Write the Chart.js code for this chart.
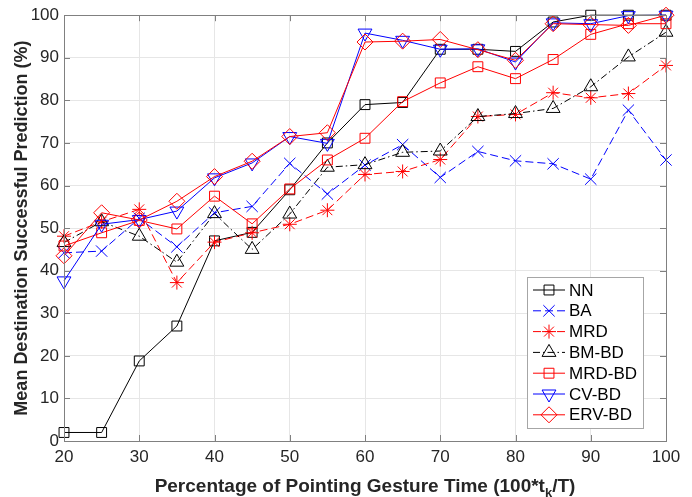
<!DOCTYPE html>
<html>
<head>
<meta charset="utf-8">
<script src="https://cdn.jsdelivr.net/npm/chart.js@4.4.0/dist/chart.umd.min.js"></script>
<style>
  html, body { margin: 0; padding: 0; background: #fff; }
</style>
</head>
<body>
<canvas id="chart" width="692" height="497"></canvas>
<script>
const xValues = [20, 25, 30, 35, 40, 45, 50, 55, 60, 65, 70, 75, 80, 85, 90, 95, 100];

const nn    = [2, 2, 18.8, 27, 47, 49, 59, 70, 79, 79.5, 92, 92, 91.5, 98.4, 100, 100, 100];
const ba    = [44.2, 44.6, 52.3, 45.6, 53.6, 55.1, 65.2, 58, 64.8, 69.6, 61.9, 68, 65.8, 65.1, 61.5, 77.7, 66];
const mrd   = [48.1, 51.5, 54.4, 37.2, 46.7, 48.9, 50.9, 54.2, 62.6, 63.3, 66.1, 76.2, 76.7, 81.8, 80.6, 81.6, 88.2];
const bmbd  = [46.6, 51.5, 48.1, 42, 53.4, 45, 53.3, 64.3, 64.9, 67.8, 68.1, 76.2, 76.9, 78.1, 83.2, 90.2, 96];
const mrdbd = [45.8, 48.9, 51.8, 49.8, 57.5, 51, 59.2, 66, 71.1, 79.7, 84.1, 87.9, 85.1, 89.6, 95.5, 98, 98];
const cvbd  = [37.6, 50.9, 52, 54, 61.8, 65.3, 71.5, 69.9, 95.8, 94.1, 92, 92.1, 89, 98.2, 98, 99.9, 100];
const ervbd = [43.5, 53.6, 51.9, 56.3, 62.1, 65.7, 71.5, 72.4, 93.7, 93.9, 94.3, 91.9, 89.4, 98, 97.8, 97.6, 100];

const xTicks = [20, 30, 40, 50, 60, 70, 80, 90, 100];
const yTitle = 'Mean Destination Successful Prediction (%)';
const xTitleParts = ['Percentage of Pointing Gesture Time (100*t', 'k', '/T)'];

const FONT = "'Liberation Sans', Arial, sans-serif";

function series(label, data, color, style, radius, dash, order, rotation) {
  return {
    label: label,
    data: data.map((v, i) => ({ x: xValues[i], y: v })),
    borderColor: color,
    borderWidth: 1,
    borderDash: dash,
    pointStyle: style,
    pointRadius: radius,
    pointRotation: rotation || 0,
    pointBorderColor: color,
    pointBackgroundColor: 'rgba(0,0,0,0)',
    pointBorderWidth: 1,
    pointHoverRadius: radius,
    tension: 0,
    fill: false,
    clip: false,
    order: order
  };
}

const datasets = [
  series('NN', nn, '#000000', 'rect', 7, [], 6),
  series('BA', ba, '#0000ff', 'crossRot', 8, [8, 4], 5),
  series('MRD', mrd, '#ff0000', 'star', 7, [8, 4], 4),
  series('BM-BD', bmbd, '#000000', 'triangle', 8, [7, 3, 1.5, 3], 3),
  series('MRD-BD', mrdbd, '#ff0000', 'rect', 7, [], 2),
  series('CV-BD', cvbd, '#0000ff', 'triangle', 8, [], 1, 180),
  series('ERV-BD', ervbd, '#ff0000', 'rectRot', 8, [], 0)
];

// box, inner ticks, x title with subscript and the legend
const decor = {
  id: 'decor',
  afterDatasetsDraw(chart) {
    const ctx = chart.ctx;
    const a = chart.chartArea;
    const xs = chart.scales.x, ys = chart.scales.y;
    ctx.save();
    ctx.strokeStyle = '#808080';
    ctx.lineWidth = 1;
    ctx.strokeRect(Math.round(a.left) + 0.5, Math.round(a.top) + 0.5,
      Math.round(a.right - a.left), Math.round(a.bottom - a.top));
    ctx.beginPath();
    xTicks.forEach(v => {
      const px = Math.round(xs.getPixelForValue(v)) + 0.5;
      ctx.moveTo(px, a.bottom); ctx.lineTo(px, a.bottom - 6);
      ctx.moveTo(px, a.top); ctx.lineTo(px, a.top + 6);
    });
    for (let v = 0; v <= 100; v += 10) {
      const py = Math.round(ys.getPixelForValue(v)) + 0.5;
      ctx.moveTo(a.left, py); ctx.lineTo(a.left + 6, py);
      ctx.moveTo(a.right, py); ctx.lineTo(a.right - 6, py);
    }
    ctx.stroke();

    // x title
    ctx.fillStyle = '#262626';
    ctx.textBaseline = 'alphabetic';
    const big = "bold 19px " + FONT, small = "bold 13px " + FONT;
    ctx.font = big;
    const w0 = ctx.measureText(xTitleParts[0]).width;
    const w2 = ctx.measureText(xTitleParts[2]).width;
    ctx.font = small;
    const w1 = ctx.measureText(xTitleParts[1]).width;
    let tx = (a.left + a.right) / 2 - (w0 + w1 + w2) / 2;
    const ty = 492;
    ctx.font = big; ctx.textAlign = 'left';
    ctx.fillText(xTitleParts[0], tx, ty); tx += w0;
    ctx.font = small;
    ctx.fillText(xTitleParts[1], tx, ty + 5); tx += w1;
    ctx.font = big;
    ctx.fillText(xTitleParts[2], tx, ty);

    // legend
    const lx = 527, ly = 277, lw = 116, lh = 151, row = 20.8;
    ctx.fillStyle = '#ffffff';
    ctx.fillRect(lx, ly, lw, lh);
    ctx.strokeStyle = '#a6a6a6';
    ctx.strokeRect(lx + 0.5, ly + 0.5, lw, lh);
    chart.data.datasets.forEach((ds, i) => {
      const cy = ly + 13 + i * row;
      ctx.strokeStyle = ds.borderColor;
      ctx.lineWidth = 1;
      ctx.setLineDash(ds.borderDash);
      ctx.beginPath();
      ctx.moveTo(lx + 6, cy); ctx.lineTo(lx + 38, cy);
      ctx.stroke();
      ctx.setLineDash([]);
      ctx.fillStyle = 'rgba(0,0,0,0)';
      Chart.helpers.drawPoint(ctx, {
        pointStyle: ds.pointStyle, radius: ds.pointRadius,
        rotation: ds.pointRotation, borderWidth: 1
      }, lx + 22, cy);
      ctx.fillStyle = '#000000';
      ctx.font = "17px " + FONT;
      ctx.textAlign = 'left';
      ctx.textBaseline = 'middle';
      ctx.fillText(ds.label, lx + 42, cy + 1);
    });
    ctx.restore();
  }
};

new Chart(document.getElementById('chart'), {
  type: 'line',
  data: { datasets: datasets },
  plugins: [decor],
  options: {
    responsive: false,
    devicePixelRatio: 1,
    animation: false,
    layout: { padding: { top: 13, right: 26, left: 0, bottom: 0 } },
    plugins: { legend: { display: false }, tooltip: { enabled: false } },
    scales: {
      x: {
        type: 'linear', min: 20, max: 100,
        afterBuildTicks: s => { s.ticks = xTicks.map(v => ({ value: v })); },
        afterFit: s => { s.height = 56; },
        ticks: { color: '#262626', font: { family: FONT, size: 17 }, padding: 6, maxRotation: 0 },
        grid: { color: '#e6e6e6', drawTicks: false },
        border: { color: '#808080' }
      },
      y: {
        min: 0, max: 100,
        afterFit: s => { s.width = 64; },
        ticks: { stepSize: 10, color: '#262626', font: { family: FONT, size: 17 }, padding: 5 },
        grid: { color: '#e6e6e6', drawTicks: false },
        border: { color: '#808080' },
        title: { display: true, text: yTitle, color: '#262626',
                 font: { family: FONT, size: 18, weight: 'bold' }, padding: { top: 11, bottom: 0 } }
      }
    }
  }
});
</script>
</body>
</html>
